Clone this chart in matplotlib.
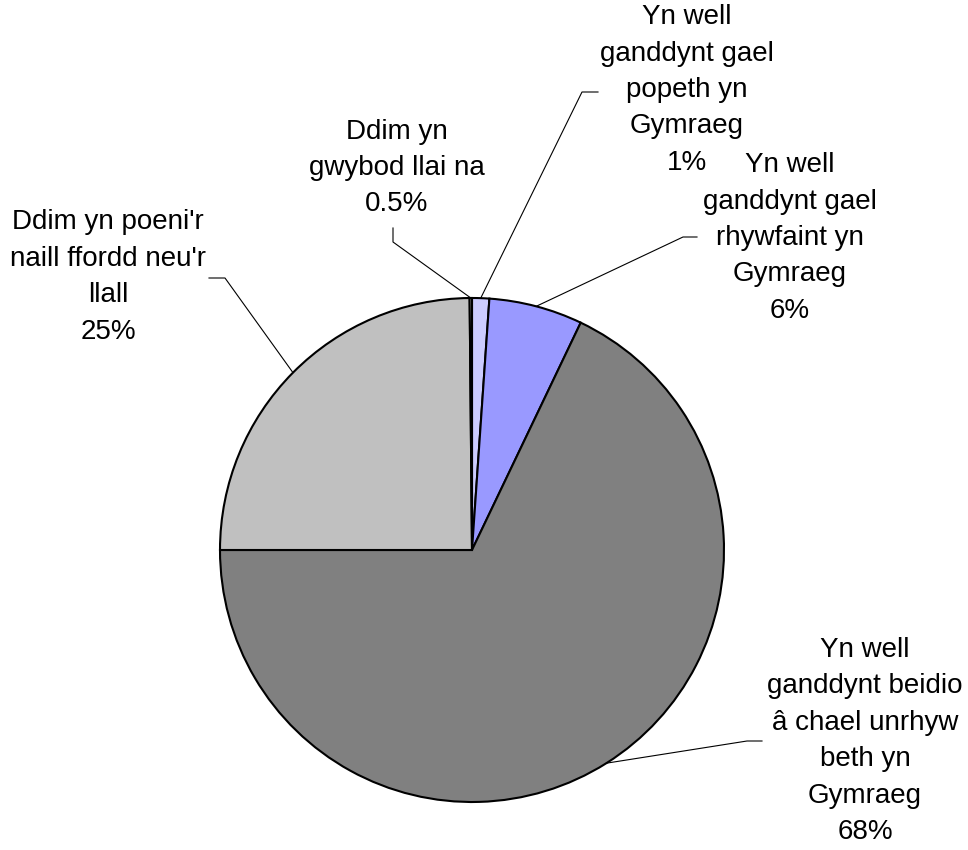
import numpy as np
import matplotlib
matplotlib.use("Agg")
import matplotlib.pyplot as plt

plt.rcParams['font.family'] = ['Liberation Sans', 'DejaVu Sans']

# Données (sens horaire depuis le haut)
labels = [
    "Yn well\nganddynt gael\npopeth yn\nGymraeg\n1%",
    "Yn well\nganddynt gael\nrhywfaint yn\nGymraeg\n6%",
    "Yn well\nganddynt beidio\nâ chael unrhyw\nbeth yn\nGymraeg\n68%",
    "Ddim yn poeni'r\nnaill ffordd neu'r\nllall\n25%",
    "Ddim yn\ngwybod llai na\n0.5%",
]
values = [1.1, 6.0, 67.9, 24.85, 0.15]
colors = ['#CCCCFF', '#9999FF', '#808080', '#C0C0C0', '#FFFFFF']

# Position des étiquettes (centre du texte) et coude des lignes de rappel
label_pos = [(687, 760), (790, 612), (865, 109), (108, 573), (397, 682)]
elbows = [[(582, 758), (598, 758)],
          [(683, 613), (697, 613)],
          [(747, 109), (762, 109)],
          [(225, 572), (209, 572)],
          [(393, 608), (393, 622)]]

fig = plt.figure(figsize=(9.68, 8.5), dpi=100)
ax = fig.add_axes([0, 0, 1, 1])

cx, cy, r = 472, 300, 252
wedges, _ = ax.pie(values, colors=colors, startangle=90, counterclock=False,
                   radius=r, center=(cx, cy), frame=True,
                   wedgeprops=dict(edgecolor='black', linewidth=1.5))
ax.set_xlim(0, 968)
ax.set_ylim(0, 850)
ax.set_aspect('equal')
ax.axis('off')

for w, lab, pos, elb in zip(wedges, labels, label_pos, elbows):
    ang = np.deg2rad((w.theta1 + w.theta2) / 2)
    x0, y0 = cx + r * np.cos(ang), cy + r * np.sin(ang)
    xs = [x0] + [p[0] for p in elb]
    ys = [y0] + [p[1] for p in elb]
    ax.plot(xs, ys, color='black', lw=0.8, clip_on=False)
    ax.text(pos[0], pos[1], lab, ha='center', va='center', fontsize=20,
            linespacing=1.52, color='black')

fig.savefig('out.png', dpi=100, facecolor='white')
